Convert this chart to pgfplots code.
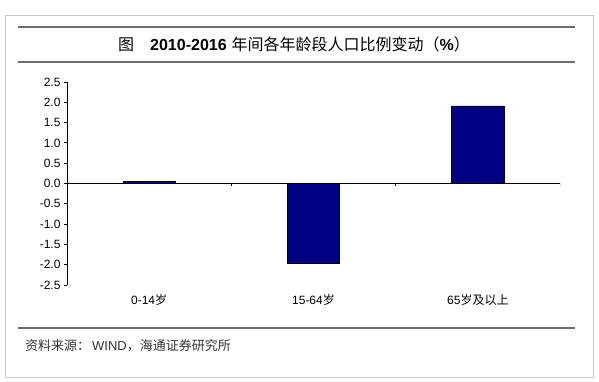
\documentclass[border=0pt]{standalone}
\usepackage{pgfplots}
\pgfplotsset{compat=1.18}
\usepackage{fontspec}
\setmainfont{Liberation Sans}
\newfontfamily\cjk{Noto Sans CJK SC}
\definecolor{barblue}{RGB}{0,0,128}
\definecolor{framegray}{RGB}{200,200,200}
\definecolor{rulegray}{RGB}{110,110,110}
\begin{document}
\begin{tikzpicture}[x=1pt,y=1pt]
\fill[white] (0,0) rectangle (599,382);
\draw[framegray, line width=0.8pt] (5,5) rectangle (593,367);
\draw[rulegray, line width=1.3pt] (18,355) -- (575,355);
\draw[rulegray, line width=1.3pt] (18,320) -- (575,320);
\draw[rulegray, line width=1.3pt] (18,54) -- (575,54);
\node[anchor=west, font=\fontsize{16}{18}\selectfont, inner sep=0pt] at (118,338)
  {{\cjk 图}\hspace{16pt}\textbf{2010-2016}\hspace{5pt}{\cjk 年间各年龄段人口比例变动（}\textbf{\%}{\cjk ）}};
\node[anchor=west, font=\fontsize{13}{15}\selectfont, text=black!80, inner sep=0pt] at (25,36)
  {{\cjk 资料来源：}\hspace{2pt}WIND{\cjk ，海通证券研究所}};
\begin{axis}[
  at={(67pt,97pt)}, anchor=south west,
  scale only axis, width=493pt, height=203pt,
  xmin=-0.5, xmax=2.5, ymin=-2.5, ymax=2.5,
  axis x line=bottom, axis y line=left,
  axis line style={-, line width=0.9pt},
  x axis line style={draw=none},
  xtick={0,1,2},
  xticklabels={{0-14{\cjk 岁}},{15-64{\cjk 岁}},{65{\cjk 岁及以上}}},
  x tick style={draw=none},
  xticklabel style={font=\fontsize{12}{14}\selectfont, yshift=-3pt},
  ytick={-2.5,-2,...,2.5},
  y tick style={line width=0.9pt, black},
  tick align=outside, major tick length=3pt,
  yticklabel style={font=\fontsize{12}{14}\selectfont},
  /pgf/number format/assume math mode=true,
  /pgf/number format/.cd, fixed, fixed zerofill, precision=1,
]
\draw[black, line width=1pt] (axis cs:-0.5,0) -- (axis cs:2.5,0);
\draw[black, line width=0.9pt] (axis cs:0.5,0) -- ++(0pt,-3pt);
\draw[black, line width=0.9pt] (axis cs:1.5,0) -- ++(0pt,-3pt);
\draw[black, line width=0.9pt] (axis cs:2.5,0) -- ++(0pt,-3pt);
\addplot[ybar, bar width=0.32, fill=barblue, draw=black, line width=0.6pt]
  coordinates {(0,0.05) (1,-1.97) (2,1.91)};
\end{axis}
\end{tikzpicture}
\end{document}
